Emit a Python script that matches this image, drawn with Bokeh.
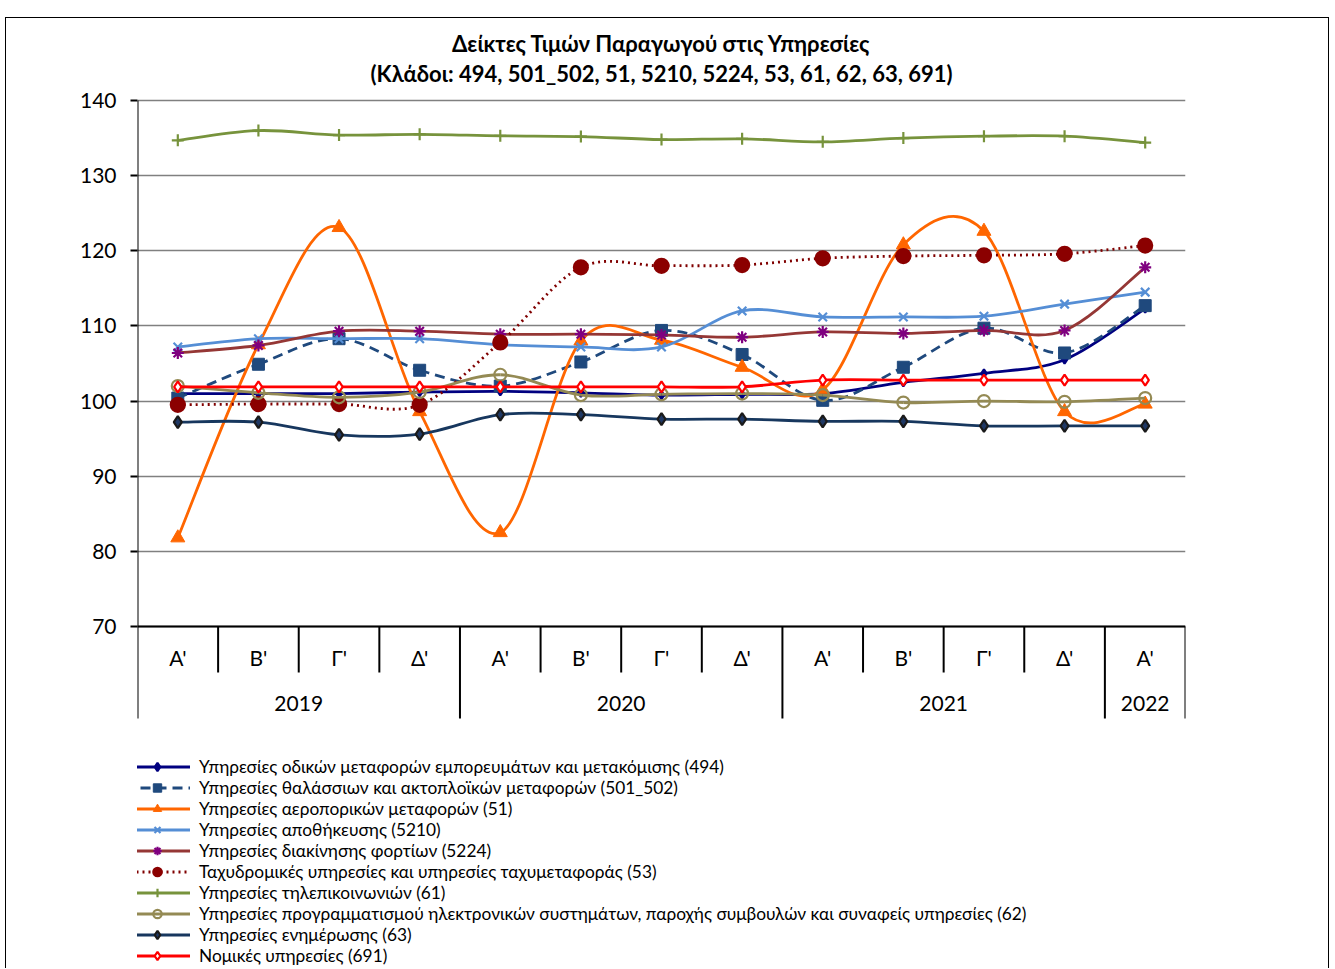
import numpy as np
from bokeh.plotting import figure
from bokeh.models import (Range1d, FixedTicker, Legend, LegendItem, ColumnDataSource,
                          Title, InlineStyleSheet)
from bokeh.core.properties import value
from bokeh.embed import file_html
from bokeh.resources import INLINE

# ---------------- data ----------------
quarters = ["Α'", "Β'", "Γ'", "Δ'", "Α'", "Β'", "Γ'", "Δ'", "Α'", "Β'", "Γ'", "Δ'", "Α'"]
years = ["2019", "2020", "2021", "2022"]
year_quarters = [4, 4, 4, 1]

s494 = [101.0, 101.0, 101.0, 101.2, 101.3, 101.1, 100.8, 100.9, 101.0, 102.5, 103.7, 105.5, 112.3]
s501_502 = [100.4, 104.9, 108.3, 104.1, 102.0, 105.2, 109.4, 106.2, 100.1, 104.5, 109.7, 106.4, 112.7]
s51 = [81.8, 107.5, 123.1, 98.6, 82.5, 108.0, 108.1, 104.5, 101.5, 120.8, 122.6, 98.6, 99.6]
s5210 = [107.2, 108.3, 108.3, 108.3, 107.5, 107.2, 107.2, 112.0, 111.2, 111.2, 111.3, 112.9, 114.5]
s5224 = [106.4, 107.4, 109.3, 109.3, 108.9, 108.9, 108.8, 108.5, 109.2, 109.0, 109.4, 109.4, 117.8]
s53 = [99.5, 99.6, 99.6, 99.5, 107.8, 117.8, 118.0, 118.1, 119.0, 119.3, 119.4, 119.6, 120.7]
s61 = [134.7, 136.0, 135.4, 135.5, 135.3, 135.2, 134.8, 134.9, 134.5, 135.0, 135.25, 135.25, 134.4]
s62 = [102.0, 101.1, 100.5, 101.2, 103.5, 100.8, 100.9, 101.0, 100.8, 99.8, 100.0, 99.9, 100.4]
s63 = [97.2, 97.2, 95.5, 95.6, 98.2, 98.2, 97.6, 97.6, 97.3, 97.3, 96.7, 96.7, 96.7]
s691 = [101.9, 101.9, 101.9, 101.9, 101.9, 101.9, 101.9, 101.9, 102.8, 102.8, 102.8, 102.8, 102.8]

labels = [
    "Υπηρεσίες οδικών μεταφορών εμπορευμάτων και μετακόμισης (494)",
    "Υπηρεσίες θαλάσσιων και ακτοπλοϊκών μεταφορών (501_502)",
    "Υπηρεσίες αεροπορικών μεταφορών (51)",
    "Υπηρεσίες αποθήκευσης (5210)",
    "Υπηρεσίες διακίνησης φορτίων (5224)",
    "Ταχυδρομικές υπηρεσίες και υπηρεσίες ταχυμεταφοράς (53)",
    "Υπηρεσίες τηλεπικοινωνιών (61)",
    "Υπηρεσίες προγραμματισμού ηλεκτρονικών συστημάτων, παροχής συμβουλών και συναφείς υπηρεσίες (62)",
    "Υπηρεσίες ενημέρωσης (63)",
    "Νομικές υπηρεσίες (691)",
]
title1 = "Δείκτες Τιμών Παραγωγού στις Υπηρεσίες"
title2 = "(Κλάδοι: 494, 501_502, 51, 5210, 5224, 53, 61, 62, 63, 691)"

y_ticks = [70, 80, 90, 100, 110, 120, 130, 140]

# ---------------- styles ----------------
FONT = "Lato"
styles = [
    dict(color="#000080", dash="solid", marker="diamond", msize=8, mline="#000080", mfill="#000080"),
    dict(color="#1F497D", dash="10 6", marker="square", msize=12, mline="#1F497D", mfill="#1F497D"),
    dict(color="#FF6600", dash="solid", marker="triangle", msize=14, mline="#FF6600", mfill="#FF6600"),
    dict(color="#558ED5", dash="solid", marker="x", msize=12, mline="#558ED5", mfill="#558ED5"),
    dict(color="#953735", dash="solid", marker="asterisk", msize=12, mline="#7F007F", mfill="#7F007F"),
    dict(color="#800000", dash="2 4", marker="circle", msize=14, mline="#8B0000", mfill="#8B0000"),
    dict(color="#77933C", dash="solid", marker="cross", msize=12, mline="#77933C", mfill="#77933C"),
    dict(color="#948A54", dash="solid", marker="circle", msize=12, mline="#948A54", mfill=None),
    dict(color="#17375E", dash="solid", marker="diamond", msize=12, mline="#1A1A1A", mfill="#1F3864"),
    dict(color="#FF0000", dash="solid", marker="diamond", msize=11, mline="#FF0000", mfill="white"),
]
series = [s494, s501_502, s51, s5210, s5224, s53, s61, s62, s63, s691]

W, H = 1334, 968
ML, MT = 137, 98
FRAME_W = 1048
PX_PER_UNIT = 526.0 / 70.0
Y_TOP = 140 + 2 / PX_PER_UNIT
Y_BOTTOM = Y_TOP - (H - MT) / PX_PER_UNIT
Q_SEP_BOTTOM = 70 - 46 / PX_PER_UNIT
YEAR_SEP_BOTTOM = 70 - 92 / PX_PER_UNIT
Q_LABEL_Y = 70 - 31 / PX_PER_UNIT
YEAR_LABEL_Y = 70 - 77 / PX_PER_UNIT

n = len(quarters)
xs = np.arange(n) + 0.5

p = figure(width=W, height=H, output_backend="svg", toolbar_location=None,
           x_range=Range1d(0, n), y_range=Range1d(Y_BOTTOM, Y_TOP),
           x_axis_location=None, title=None,
           min_border_left=ML, min_border_right=W - ML - FRAME_W, min_border_top=MT,
           min_border_bottom=0)
p.outline_line_color = None
p.background_fill_color = "white"
p.border_fill_color = "white"
p.xgrid.visible = False

p.ygrid.ticker = FixedTicker(ticks=y_ticks)
p.ygrid.grid_line_color = "#808080"
p.ygrid.grid_line_width = 1.3
yax = p.yaxis[0]
yax.ticker = FixedTicker(ticks=y_ticks)
yax.axis_line_color = None
yax.major_tick_in = 0
yax.major_tick_out = 7
yax.major_tick_line_color = "black"
yax.major_tick_line_width = 2
yax.minor_tick_line_color = None
yax.major_label_text_font = FONT
yax.major_label_text_font_size = "21px"
yax.major_label_text_color = "black"
yax.major_label_standoff = 14

# two-line title, lines centred
ttl = Title(text=title1 + "\n" + title2, align="center", text_font=FONT, text_font_size="22px",
            text_font_style="bold", text_color="black", text_line_height=1.13, standoff=22)
try:
    ttl.text_align = "center"
except AttributeError:
    pass
p.add_layout(ttl, "above")

# category axis frame lines
bounds = np.concatenate([[0], np.cumsum(year_quarters)])
year_set = set(bounds.tolist())
q_seps = [i for i in range(1, n) if i not in year_set]
p.segment(x0=q_seps, x1=q_seps, y0=[70] * len(q_seps), y1=[Q_SEP_BOTTOM] * len(q_seps),
          line_color="black", line_width=2)
ytops = [140 if b == 0 else 70 for b in bounds]
p.segment(x0=bounds, x1=bounds, y0=ytops, y1=[YEAR_SEP_BOTTOM] * len(bounds),
          line_color="black", line_width=2)
p.segment(x0=[0], x1=[n], y0=[70], y1=[70], line_color="black", line_width=2)

p.text(x=xs, y=[Q_LABEL_Y] * n, text=quarters, text_align="center", text_baseline="middle",
       text_font=value(FONT), text_font_size="21px", text_color="black")
year_centers = (bounds[:-1] + bounds[1:]) / 2
p.text(x=year_centers, y=[YEAR_LABEL_Y] * len(years), text=years, text_align="center",
       text_baseline="middle", text_font=value(FONT), text_font_size="21px", text_color="black")


def bezier_ctrl(y):
    y = np.asarray(y, dtype=float)
    m = len(y)
    ext = np.concatenate([[y[0]], y, [y[-1]]])
    xe = np.concatenate([[xs[0]], xs, [xs[-1]]])
    x0 = xs[:-1]; x1 = xs[1:]; y0 = y[:-1]; y1 = y[1:]
    cx0 = x0 + (xe[2:m + 1] - xe[0:m - 1]) / 6
    cy0 = y0 + (ext[2:m + 1] - ext[0:m - 1]) / 6
    cx1 = x1 - (xe[3:m + 2] - xe[1:m]) / 6
    cy1 = y1 - (ext[3:m + 2] - ext[1:m]) / 6
    return dict(x0=x0, y0=y0, x1=x1, y1=y1, cx0=cx0, cy0=cy0, cx1=cx1, cy1=cy1)


items = []
for vals, st, lab in zip(series, styles, labels):
    src = ColumnDataSource(bezier_ctrl(vals))
    p.bezier(x0="x0", y0="y0", x1="x1", y1="y1", cx0="cx0", cy0="cy0", cx1="cx1", cy1="cy1",
             source=src, line_color=st["color"], line_width=2.8, line_dash=st["dash"])
    # single-point line: invisible in the plot, gives the legend its line sample
    leg_line = p.line(x=[xs[0]], y=[vals[0]], line_color=st["color"], line_width=2.8,
                      line_dash=st["dash"])
    sc = p.scatter(x=xs, y=vals, marker=st["marker"], size=st["msize"], line_color=st["mline"],
                   fill_color=st["mfill"],
                   line_width=2.2 if st["marker"] in ("x", "asterisk", "cross", "circle", "diamond") else 1)
    items.append(LegendItem(label=lab, renderers=[leg_line, sc]))

legend = Legend(items=items, location=(-13, 2), orientation="vertical", glyph_width=66,
                glyph_height=21, label_height=21, spacing=0, padding=0, margin=0,
                label_standoff=9, border_line_color=None, background_fill_alpha=0,
                label_text_font=FONT, label_text_font_size="17.3px", label_text_color="black")
p.add_layout(legend, "center")

# outer chart-area border (left, top, right edges)
p.stylesheets = [InlineStyleSheet(css="""
:host { position: relative; }
:host::after {
  content: ""; position: absolute; left: 5px; top: 17px; width: 1324px; bottom: 0px;
  border-left: 1.5px solid #000; border-top: 1.5px solid #000; border-right: 1.5px solid #000;
  pointer-events: none; box-sizing: border-box;
}
""")]

open("out.html", "w").write(file_html(p, INLINE))
